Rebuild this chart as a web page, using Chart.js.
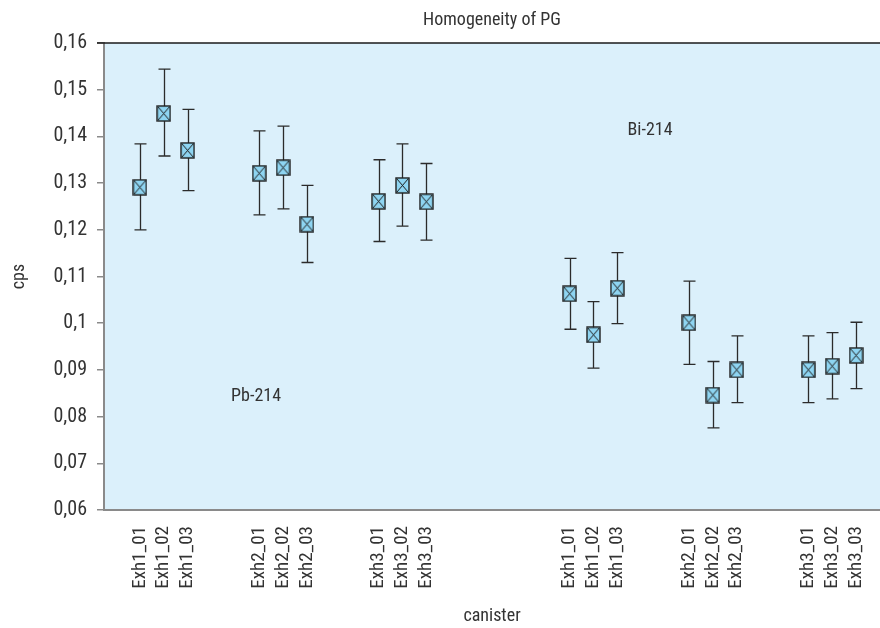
<!DOCTYPE html>
<html>
<head>
<meta charset="utf-8">
<script src="https://cdn.jsdelivr.net/npm/chart.js@4.4.0/dist/chart.umd.min.js"></script>
<style>
  html, body { margin: 0; padding: 0; background: #ffffff; }
  canvas { display: block; }
</style>
</head>
<body>
<canvas id="homogeneityChart" width="880" height="628"></canvas>
<script>
// canister slots, '' = gap between groups
const categories = [
    'Exh1_01', 'Exh1_02', 'Exh1_03', '', '',
    'Exh2_01', 'Exh2_02', 'Exh2_03', '', '',
    'Exh3_01', 'Exh3_02', 'Exh3_03', '', '', '', '', '',
    'Exh1_01', 'Exh1_02', 'Exh1_03', '', '',
    'Exh2_01', 'Exh2_02', 'Exh2_03', '', '',
    'Exh3_01', 'Exh3_02', 'Exh3_03'
];

// measured cps and error bar ends (Pb-214 first, then Bi-214)
const cpsValues = [
    0.1291, 0.1449, 0.1370, null, null,
    0.1321, 0.1333, 0.1212, null, null,
    0.1261, 0.1295, 0.1260, null, null, null, null, null,
    0.1063, 0.0975, 0.1075, null, null,
    0.1001, 0.0846, 0.0900, null, null,
    0.0900, 0.0908, 0.0931
];
const cpsLow = [
    0.1200, 0.1358, 0.1284, null, null,
    0.1232, 0.1245, 0.1130, null, null,
    0.1175, 0.1208, 0.1178, null, null, null, null, null,
    0.0987, 0.0904, 0.0999, null, null,
    0.0912, 0.0776, 0.0830, null, null,
    0.0830, 0.0838, 0.0860
];
const cpsHigh = [
    0.1384, 0.1544, 0.1458, null, null,
    0.1412, 0.1422, 0.1295, null, null,
    0.1350, 0.1384, 0.1342, null, null, null, null, null,
    0.1139, 0.1046, 0.1151, null, null,
    0.1090, 0.0918, 0.0973, null, null,
    0.0973, 0.0980, 0.1002
];

const yMin = 0.06;
const yMax = 0.16;
const yStep = 0.01;

const chartTitle = 'Homogeneity of PG';
const nuclideLabels = ['Pb-214', 'Bi-214'];

const FONT = "'Roboto Condensed', 'DejaVu Sans Condensed', sans-serif";
const TEXT = '#333333';

Chart.defaults.font.family = FONT;
Chart.defaults.color = TEXT;

// square marker with a cross inside
function makeMarker() {
    const c = document.createElement('canvas');
    c.width = 15;
    c.height = 17;
    const g = c.getContext('2d');
    g.fillStyle = '#8ed5f2';
    g.fillRect(1, 1, 13, 15);
    g.strokeStyle = '#1e1e1e';
    g.lineWidth = 1.4;
    g.strokeRect(1, 1, 13, 15);
    g.lineWidth = 1;
    g.beginPath();
    g.moveTo(2, 2); g.lineTo(13, 15);
    g.moveTo(13, 2); g.lineTo(2, 15);
    g.stroke();
    return c;
}

const points = [];
categories.forEach((c, i) => {
    if (cpsValues[i] !== null) {
        points.push({ x: i, y: cpsValues[i], low: cpsLow[i], high: cpsHigh[i] });
    }
});

const plotBackground = {
    id: 'plotBackground',
    beforeDraw(chart) {
        const { ctx, chartArea: a } = chart;
        ctx.save();
        ctx.fillStyle = '#dbf0fb';
        ctx.fillRect(a.left, a.top, a.right - a.left, a.bottom - a.top);
        ctx.restore();
    },
    afterDraw(chart) {
        const { ctx, chartArea: a } = chart;
        ctx.save();
        ctx.strokeStyle = '#1a1a1a';
        ctx.lineWidth = 1.5;
        ctx.beginPath();
        ctx.moveTo(a.left - 7, a.top);
        ctx.lineTo(a.right, a.top);
        ctx.stroke();
        // title centred over the plot area
        ctx.font = '18px ' + FONT;
        ctx.fillStyle = TEXT;
        ctx.textAlign = 'center';
        ctx.textBaseline = 'middle';
        ctx.fillText(chartTitle, (a.left + a.right) / 2, 20);
        ctx.restore();
    }
};

const errorBars = {
    id: 'errorBars',
    beforeDatasetsDraw(chart) {
        const { ctx } = chart;
        const y = chart.scales.y;
        const meta = chart.getDatasetMeta(0);
        const data = chart.data.datasets[0].data;
        ctx.save();
        ctx.strokeStyle = '#2b2b2b';
        ctx.lineWidth = 1.3;
        meta.data.forEach((pt, j) => {
            const yl = y.getPixelForValue(data[j].low);
            const yh = y.getPixelForValue(data[j].high);
            const x = Math.round(pt.x) + 0.5;
            ctx.beginPath();
            ctx.moveTo(x, yh);
            ctx.lineTo(x, yl);
            ctx.moveTo(x - 6, yh);
            ctx.lineTo(x + 6, yh);
            ctx.moveTo(x - 6, yl);
            ctx.lineTo(x + 6, yl);
            ctx.stroke();
        });
        ctx.restore();
    }
};

const nuclideText = {
    id: 'nuclideText',
    afterDatasetsDraw(chart) {
        const { ctx, scales: { x, y } } = chart;
        const spots = [{ x: 4.87, y: 0.0842 }, { x: 21.37, y: 0.1412 }];
        ctx.save();
        ctx.font = '18px ' + FONT;
        ctx.fillStyle = TEXT;
        ctx.textAlign = 'center';
        ctx.textBaseline = 'middle';
        nuclideLabels.forEach((t, i) => {
            ctx.fillText(t, x.getPixelForValue(spots[i].x), y.getPixelForValue(spots[i].y));
        });
        ctx.restore();
    }
};

new Chart(document.getElementById('homogeneityChart'), {
    type: 'scatter',
    data: {
        datasets: [{
            data: points,
            pointStyle: makeMarker(),
            pointRadius: 8,
            pointHoverRadius: 8
        }]
    },
    options: {
        responsive: false,
        animation: false,
        events: [],
        layout: { autoPadding: false, padding: { top: 43, right: 0, left: 0, bottom: 0 } },
        plugins: {
            legend: { display: false },
            tooltip: { enabled: false },
            title: { display: false }
        },
        scales: {
            x: {
                type: 'linear',
                min: -1.5,
                max: 31,
                afterBuildTicks(scale) {
                    scale.ticks = categories
                        .map((c, i) => ({ value: i, label: c }))
                        .filter(t => t.label !== '');
                },
                afterFit(scale) {
                    scale.height = 118;
                    scale.paddingLeft = 0;
                    scale.paddingRight = 0;
                },
                grid: { drawOnChartArea: false, drawTicks: false },
                border: { color: '#8a8a8a', width: 2 },
                ticks: {
                    autoSkip: false,
                    minRotation: 90,
                    maxRotation: 90,
                    padding: 16,
                    font: { size: 19 },
                    callback: (v) => categories[v]
                },
                title: {
                    display: true,
                    text: 'canister',
                    font: { size: 18 },
                    padding: { top: 2, bottom: 1 }
                }
            },
            y: {
                min: yMin,
                max: yMax,
                afterFit(scale) {
                    scale.width = 104;
                    scale.paddingTop = 0;
                    scale.paddingBottom = 0;
                },
                grid: { drawOnChartArea: false, drawTicks: true, tickLength: 7, color: '#8a8a8a', lineWidth: 1.5 },
                border: { color: '#8a8a8a', width: 2 },
                ticks: {
                    stepSize: yStep,
                    padding: 10,
                    font: { size: 20 },
                    callback: (v) => String(parseFloat(v.toFixed(2))).replace('.', ',')
                },
                title: {
                    display: true,
                    text: 'cps',
                    font: { size: 18 },
                    padding: { top: 9, bottom: 0 }
                }
            }
        }
    },
    plugins: [plotBackground, errorBars, nuclideText]
});
</script>
</body>
</html>
